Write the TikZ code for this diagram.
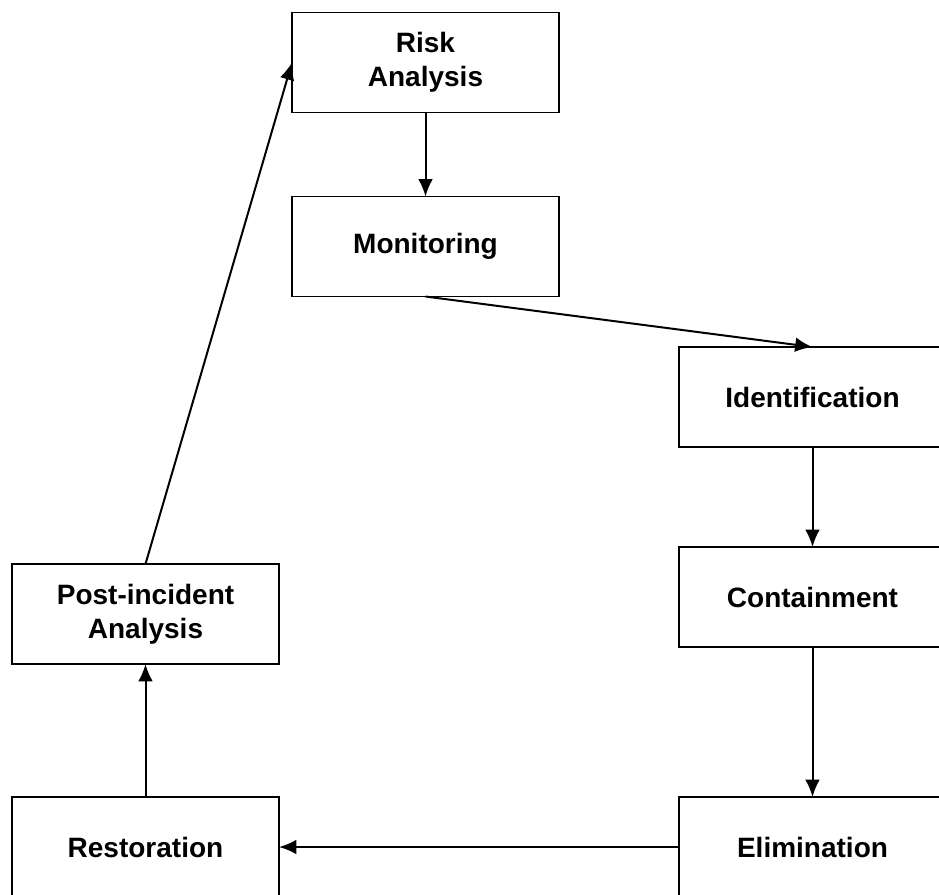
\documentclass[tikz,border=0pt]{standalone}
\usepackage{fontspec}
\setmainfont{Liberation Sans}
\usetikzlibrary{shapes,arrows.meta}

\begin{document}
\begin{tikzpicture}[x=0.75pt,y=-0.75pt,
     stage/.style={draw,rectangle,line width=1.3pt,inner sep=0pt,outer sep=0pt,
       minimum width=200.25pt,minimum height=75pt,align=center,
       font=\bfseries\fontsize{21}{25.5}\selectfont},
     link/.style={line width=1.5pt,-{Latex[length=13pt,width=11pt]}}
     ]
%Size of the picture
\def \xmax{939}
\def \ymax{894}
\useasboundingbox (0,0) rectangle (\xmax,\ymax);
\clip (0,0) rectangle (\xmax,\ymax);

%Columns of the boxes
\def \xl{145.5}
\def \xm{425.5}
\def \xr{812.5}

%Draw the boxes
\node[stage] (risk) at (\xm,62.5) {Risk\\Analysis};
\node[stage] (mon) at (\xm,246.5) {Monitoring};
\node[stage] (ident) at (\xr,397) {Identification};
\node[stage] (cont) at (\xr,597) {Containment};
\node[stage] (elim) at (\xr,847) {Elimination};
\node[stage] (rest) at (\xl,847) {Restoration};
\node[stage] (post) at (\xl,614) {Post-incident\\Analysis};

%Arrows between the boxes
\foreach \a/\b in {risk/mon,ident/cont,cont/elim,elim/rest,rest/post}
   {
\draw[link] (\a) -- (\b);
   }
\draw[link] (mon.south) -- (ident.north);
\draw[link] (post.north) -- (risk.west);
\end{tikzpicture}
\end{document}
